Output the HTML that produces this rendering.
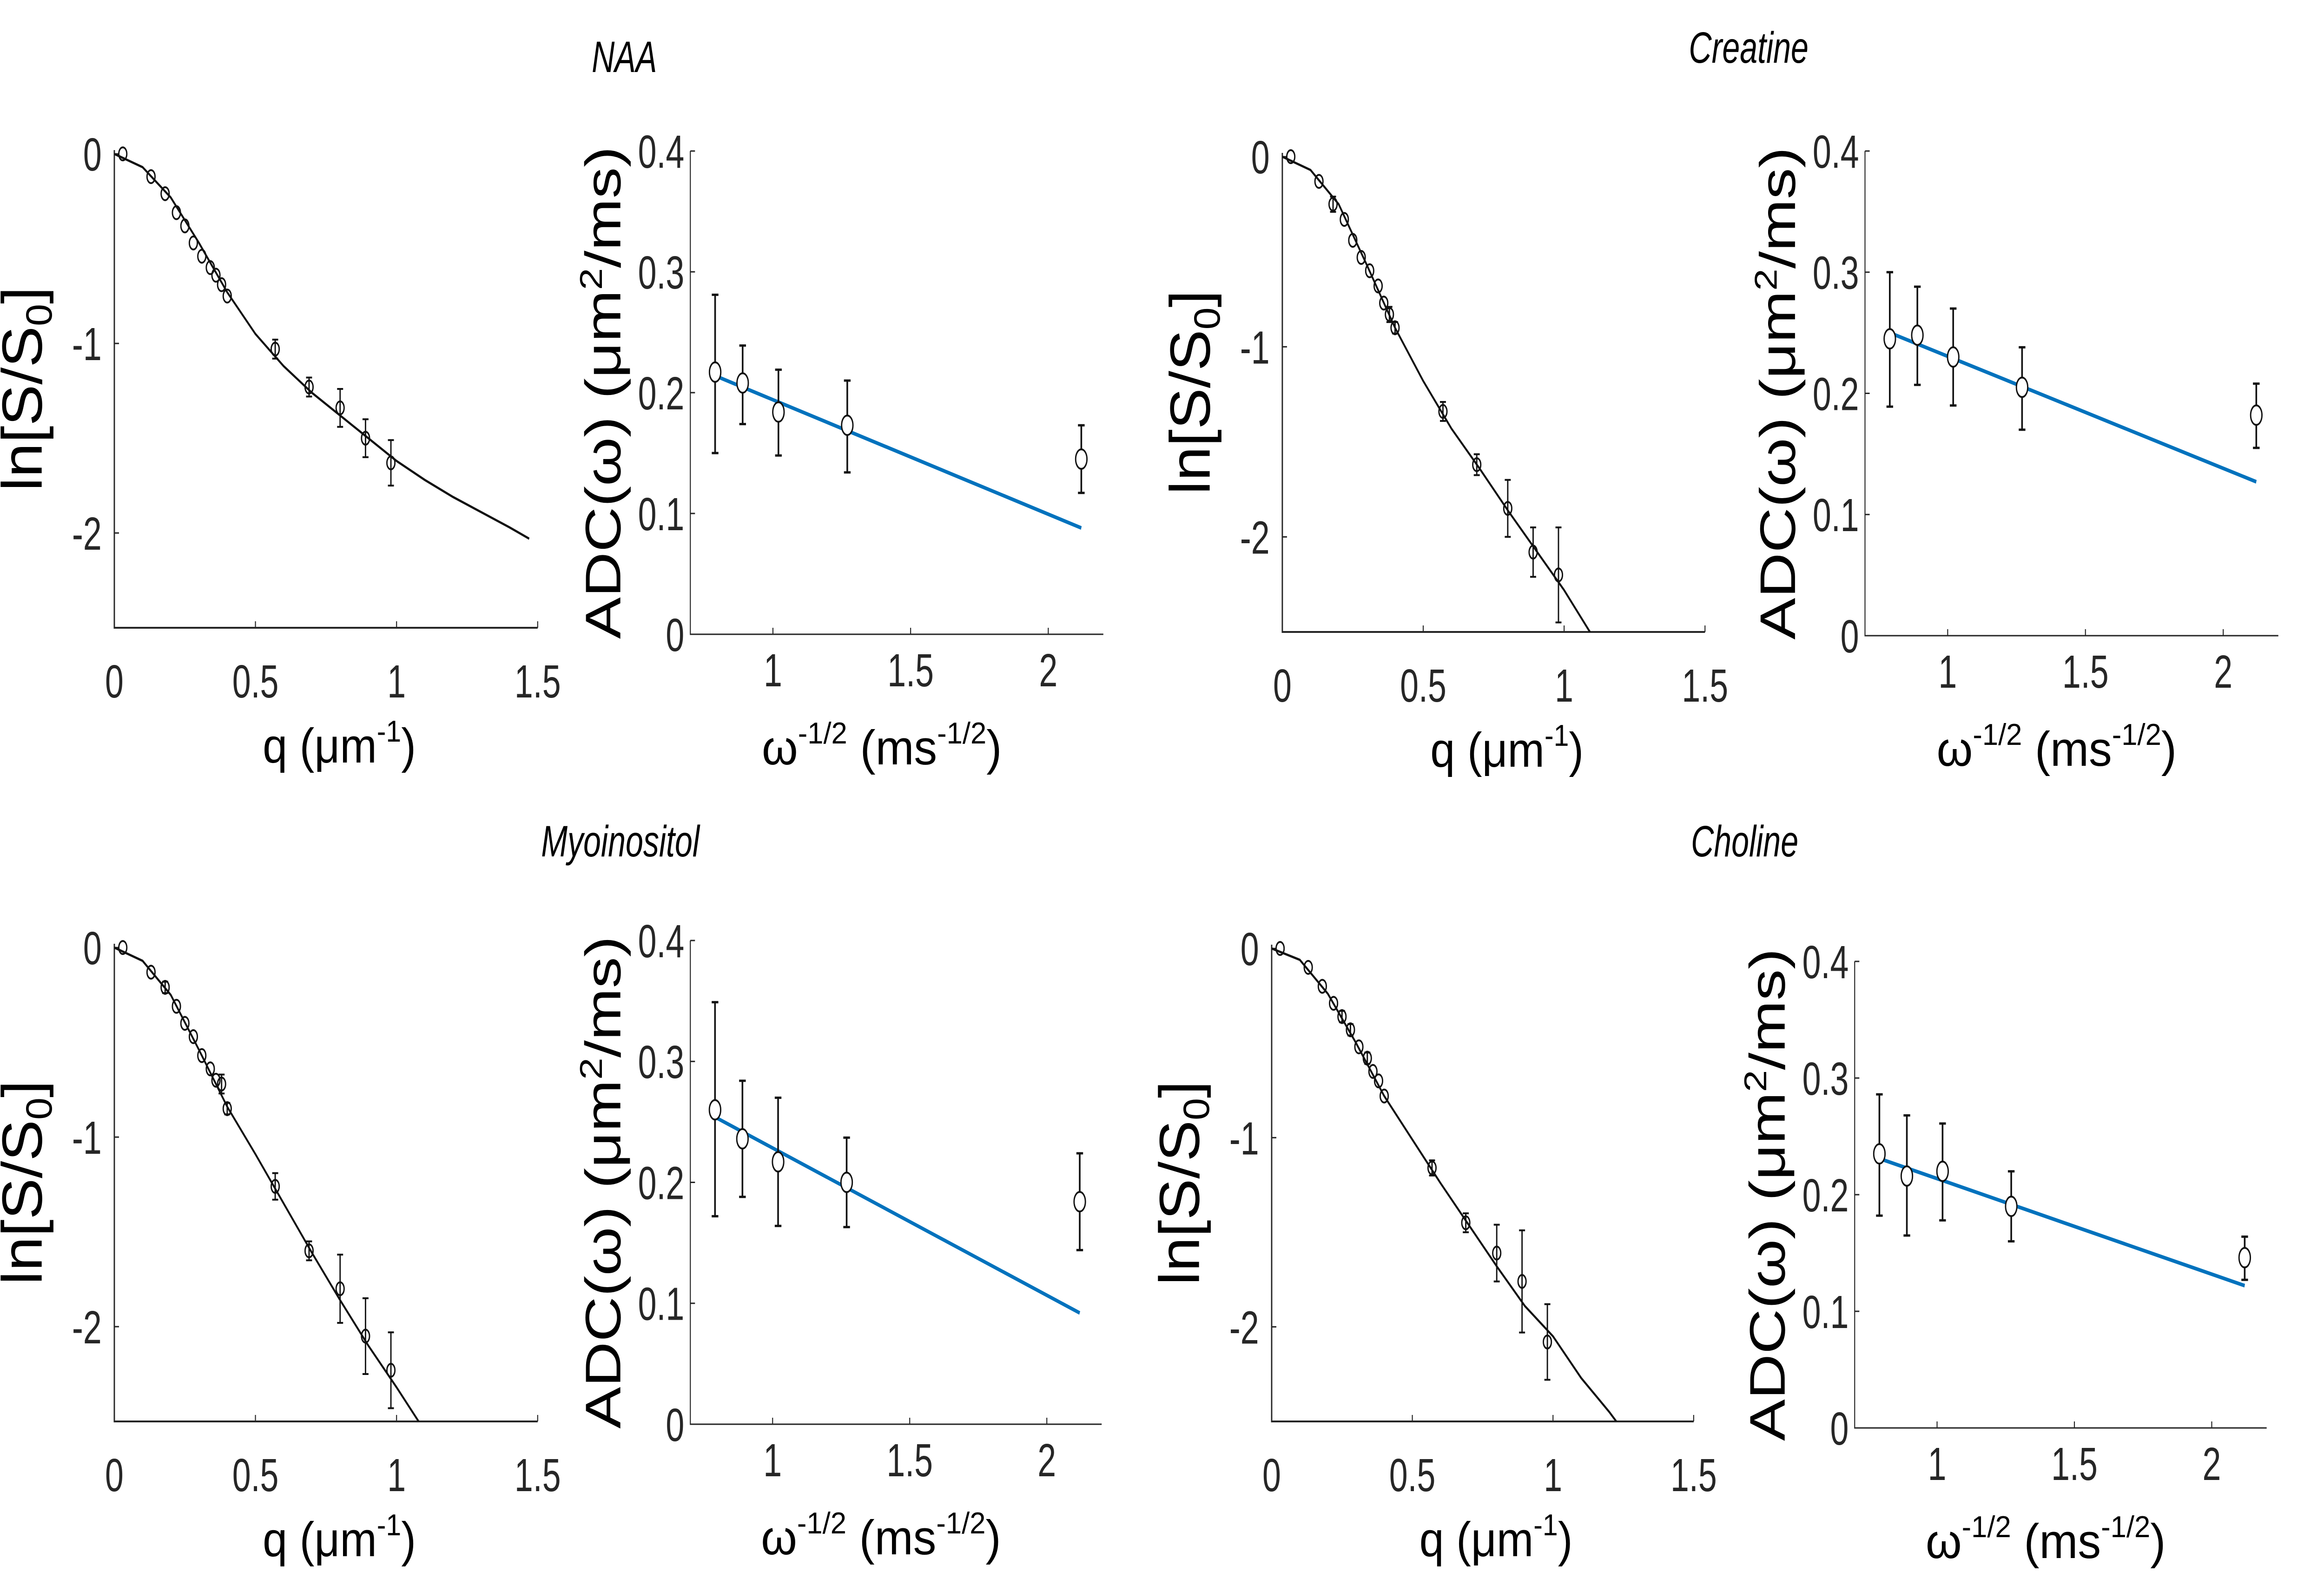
<!DOCTYPE html>
<html><head><meta charset="utf-8"><style>
html,body{margin:0;padding:0;background:#fff;overflow:hidden;width:100vw;height:100vh;}
svg{display:block;font-family:"Liberation Sans",sans-serif;width:100vw;height:100vh;}
</style></head><body>
<svg id="fig" viewBox="0 0 6972 3411" preserveAspectRatio="none" xmlns="http://www.w3.org/2000/svg"></svg>
<script>
// ---- data ----
const qPts = [0.03,0.13,0.18,0.22,0.25,0.28,0.31,0.34,0.36,0.38,0.40,0.57,0.69,0.80,0.89,0.98];
const naaY = [0,-0.12,-0.21,-0.31,-0.38,-0.47,-0.54,-0.60,-0.64,-0.69,-0.75,-1.03,-1.23,-1.34,-1.50,-1.63];
const naaErr = [0,0,0,0,0,0,0,0,0,0,0,0.05,0.05,0.1,0.1,0.12];
const creY = [0,-0.13,-0.25,-0.33,-0.44,-0.53,-0.60,-0.68,-0.77,-0.83,-0.90,-1.34,-1.62,-1.85,-2.08,-2.20];
const creErr = [0,0,0.04,0,0,0,0,0,0,0.04,0.03,0.05,0.055,0.15,0.13,0.25];
const myoY = [0,-0.13,-0.21,-0.31,-0.40,-0.47,-0.57,-0.64,-0.70,-0.72,-0.85,-1.26,-1.60,-1.80,-2.05,-2.23];
const myoErr = [0,0,0.03,0,0,0,0,0,0,0.05,0.03,0.07,0.05,0.18,0.2,0.2];
const choY = [0,-0.10,-0.20,-0.29,-0.36,-0.43,-0.52,-0.58,-0.65,-0.70,-0.78,-1.16,-1.45,-1.61,-1.76,-2.08];
const choErr = [0,0,0,0,0.03,0.03,0,0.03,0,0,0,0.04,0.05,0.15,0.27,0.2];
const fitQ = [0,0.1,0.2,0.3,0.4,0.5,0.6,0.7,0.8,0.9,1.0,1.1,1.2,1.3,1.4,1.47];
const naaFit = [0,-0.07,-0.23,-0.47,-0.73,-0.95,-1.12,-1.26,-1.38,-1.50,-1.62,-1.72,-1.81,-1.89,-1.97,-2.03];
const creFit = [0,-0.07,-0.25,-0.57,-0.90,-1.18,-1.43,-1.64,-1.86,-2.07,-2.28,-2.52,-2.7,-2.9,-3.1,-3.2];
const myoFit = [0,-0.07,-0.25,-0.54,-0.84,-1.09,-1.35,-1.61,-1.86,-2.10,-2.32,-2.55,-2.75,-2.95,-3.15,-3.3];
const choFit = [0,-0.06,-0.24,-0.50,-0.78,-1.01,-1.24,-1.46,-1.68,-1.89,-2.05,-2.27,-2.45,-2.65,-2.85,-3.0];
const wPts = [0.79,0.89,1.02,1.27,2.12];
const naaAdc = [0.217,0.208,0.184,0.173,0.145];
const naaLo = [0.150,0.174,0.148,0.134,0.117];
const naaHi = [0.281,0.239,0.219,0.210,0.173];
const naaLine = [0.214,0.088];
const creAdc = [0.245,0.248,0.230,0.205,0.182];
const creLo = [0.189,0.207,0.190,0.170,0.155];
const creHi = [0.300,0.288,0.270,0.238,0.208];
const creLine = [0.250,0.127];
const myoAdc = [0.260,0.236,0.217,0.200,0.184];
const myoLo = [0.172,0.188,0.164,0.163,0.144];
const myoHi = [0.349,0.284,0.270,0.237,0.224];
const myoLine = [0.254,0.092];
const choAdc = [0.235,0.216,0.220,0.190,0.146];
const choLo = [0.182,0.165,0.178,0.160,0.127];
const choHi = [0.286,0.268,0.261,0.220,0.164];
const choLine = [0.231,0.122];
const lineX = [0.79,2.12];
const qTicks = [0,0.5,1,1.5];
const qTickLabels = ["0","0.5","1","1.5"];
const lnTicks = [0,-1,-2];
const lnTickLabels = ["0","-1","-2"];
const wTicks = [1,1.5,2];
const wTickLabels = ["1","1.5","2"];
const adcTicks = [0,0.1,0.2,0.3,0.4];
const adcTickLabels = ["0","0.1","0.2","0.3","0.4"];

const NS="http://www.w3.org/2000/svg";
const svg=document.getElementById('fig');
function mk(tag,attrs,parent){const e=document.createElementNS(NS,tag);for(const k in attrs)e.setAttribute(k,attrs[k]);(parent||svg).appendChild(e);return e;}

function leftPanel(g, name, x0, x1, yTop, yBot, ys, errs, fit){
  const sx=v=>x0+(v-0)/1.5*(x1-x0);
  const y0v=0.02, y1v=-2.5;
  const sy=v=>yTop+(y0v-v)/(y0v-y1v)*(yBot-yTop);
  const grp=mk('g',{},g);
  
  
  const clipId='clip-'+name;
  const cp=mk('clipPath',{id:clipId},grp);
  mk('rect',{x:x0,y:yTop-40,width:x1-x0+10,height:yBot-yTop+40},cp);
  const ax=mk('path',{d:`M${x0},${yTop} L${x0},${yBot} L${x1},${yBot}`,fill:'none',stroke:'#262626','stroke-width':4},grp);
  
  
  qTicks.forEach((t,i)=>{
    const x=sx(t);
    mk('line',{x1:x,x2:x,y1:yBot,y2:yBot-14,stroke:'#262626','stroke-width':3},grp);
    const tx=mk('text',{x:x,y:yBot+150,'text-anchor':'middle','font-size':100,fill:'#262626'},grp);
    tx.textContent=qTickLabels[i];
    
    
  });
  lnTicks.forEach((t,i)=>{
    const y=sy(t);
    mk('line',{x1:x0,x2:x0+14,y1:y,y2:y,stroke:'#262626','stroke-width':3},grp);
    const tx=mk('text',{x:x0-38,y:y+36,'text-anchor':'end','font-size':100,fill:'#262626'},grp);
    tx.textContent=lnTickLabels[i];
    
    
  });
  let d='';
  fitQ.forEach((q,i)=>{d+=(i?'L':'M')+sx(q).toFixed(1)+','+sy(fit[i]).toFixed(1);});
  const fl=mk('path',{d:d,fill:'none',stroke:'#111','stroke-width':5,'clip-path':`url(#${clipId})`},grp);
  
  
  qPts.forEach((q,i)=>{
    const x=sx(q),y=sy(ys[i]);
    if(errs[i]>0){
      const ya=sy(ys[i]+errs[i]),yb=sy(ys[i]-errs[i]);
      const eb=mk('path',{d:`M${x},${ya}L${x},${yb}M${x-9},${ya}L${x+9},${ya}M${x-9},${yb}L${x+9},${yb}`,stroke:'#111','stroke-width':4,fill:'none'},grp);
      
      
    }
    const c=mk('ellipse',{cx:x,cy:y,rx:12,ry:14,fill:'none',stroke:'#111','stroke-width':4},grp);
    
    
  });
  const yl=mk('text',{transform:`translate(${x0-218},${(yTop+yBot)/2}) rotate(-90)`,'text-anchor':'middle','font-size':170,fill:'#000',textLength:440,lengthAdjust:'spacingAndGlyphs'},grp);
  yl.innerHTML='ln[S/S<tspan font-size="110" dy="30">0</tspan><tspan dy="-30">]</tspan>';
  
  
  const xl=mk('text',{x:(x0+x1)/2+40,y:yBot+290,'text-anchor':'middle','font-size':105,fill:'#000',textLength:460,lengthAdjust:'spacingAndGlyphs'},grp);
  xl.innerHTML='q (μm<tspan font-size="65" dy="-45">-1</tspan><tspan dy="45">)</tspan>';
  
  
}

function rightPanel(g,name,x0,x1,yTop,yBot,adc,lo,hi,line){
  const sx=v=>x0+(v-0.7)/1.5*(x1-x0);
  const sy=v=>yBot-(v/0.4)*(yBot-yTop);
  const grp=mk('g',{},g);
  
  
  const ax=mk('path',{d:`M${x0},${yTop} L${x0},${yBot} L${x1},${yBot}`,fill:'none',stroke:'#262626','stroke-width':3},grp);
  
  
  wTicks.forEach((t,i)=>{
    const x=sx(t);
    mk('line',{x1:x,x2:x,y1:yBot,y2:yBot-14,stroke:'#262626','stroke-width':3},grp);
    const tx=mk('text',{x:x,y:yBot+112,'text-anchor':'middle','font-size':100,fill:'#262626'},grp);
    tx.textContent=wTickLabels[i];
    
    
  });
  adcTicks.forEach((t,i)=>{
    const y=sy(t);
    mk('line',{x1:x0,x2:x0+14,y1:y,y2:y,stroke:'#262626','stroke-width':3},grp);
    const tx=mk('text',{x:x0-18,y:y+36,'text-anchor':'end','font-size':100,fill:'#262626'},grp);
    tx.textContent=adcTickLabels[i];
    
    
  });
  const bl=mk('line',{x1:sx(lineX[0]),y1:sy(line[0]),x2:sx(lineX[1]),y2:sy(line[1]),stroke:'#0072BD','stroke-width':8},grp);
  
  
  wPts.forEach((w,i)=>{
    const x=sx(w),ya=sy(hi[i]),yb=sy(lo[i]);
    const eb=mk('path',{d:`M${x},${ya}L${x},${yb}M${x-10},${ya}L${x+10},${ya}M${x-10},${yb}L${x+10},${yb}`,stroke:'#111','stroke-width':5,fill:'none'},grp);
    
    
    const c=mk('ellipse',{cx:x,cy:sy(adc[i]),rx:17,ry:21,fill:'#fff',stroke:'#111','stroke-width':4},grp);
    
    
  });
  const yl=mk('text',{transform:`translate(${x0-210},${(yTop+yBot)/2}) rotate(-90)`,'text-anchor':'middle','font-size':150,fill:'#000',textLength:1060,lengthAdjust:'spacingAndGlyphs'},grp);
  yl.innerHTML='ADC(ω) (μm<tspan font-size="95" dy="-55">2</tspan><tspan dy="55">/ms)</tspan>';
  
  
  const xl=mk('text',{x:(x0+x1)/2-45,y:yBot+280,'text-anchor':'middle','font-size':105,fill:'#000',textLength:720,lengthAdjust:'spacingAndGlyphs'},grp);
  xl.innerHTML='ω<tspan font-size="65" dy="-45">-1/2</tspan><tspan dy="45"> (ms</tspan><tspan font-size="65" dy="-45">-1/2</tspan><tspan dy="45">)</tspan>';
  
  
}

function title(txt,x,y,name){
  const t=mk('text',{x:x,y:y,'text-anchor':'middle','font-size':95,'font-style':'italic',fill:'#000'});
  t.textContent=txt;
  
  
}

title('NAA',1873,155,'naa-title');
title('Creatine',5246,135,'creatine-title');
title('Myoinositol',1861,1843,'myoinositol-title');
title('Choline',5234,1843,'choline-title');

leftPanel(svg,'naa',343,1613,323,1351,naaY,naaErr,naaFit);
rightPanel(svg,'naa',2071,3310,325,1365,naaAdc,naaLo,naaHi,naaLine);
leftPanel(svg,'creatine',3847,5115,329,1360,creY,creErr,creFit);
rightPanel(svg,'creatine',5595,6835,325,1368,creAdc,creLo,creHi,creLine);
leftPanel(svg,'myoinositol',343,1613,2031,3059,myoY,myoErr,myoFit);
rightPanel(svg,'myoinositol',2071,3305,2024,3065,myoAdc,myoLo,myoHi,myoLine);
leftPanel(svg,'choline',3815,5081,2033,3059,choY,choErr,choFit);
rightPanel(svg,'choline',5564,6800,2069,3073,choAdc,choLo,choHi,choLine);
</script>
</body></html>
